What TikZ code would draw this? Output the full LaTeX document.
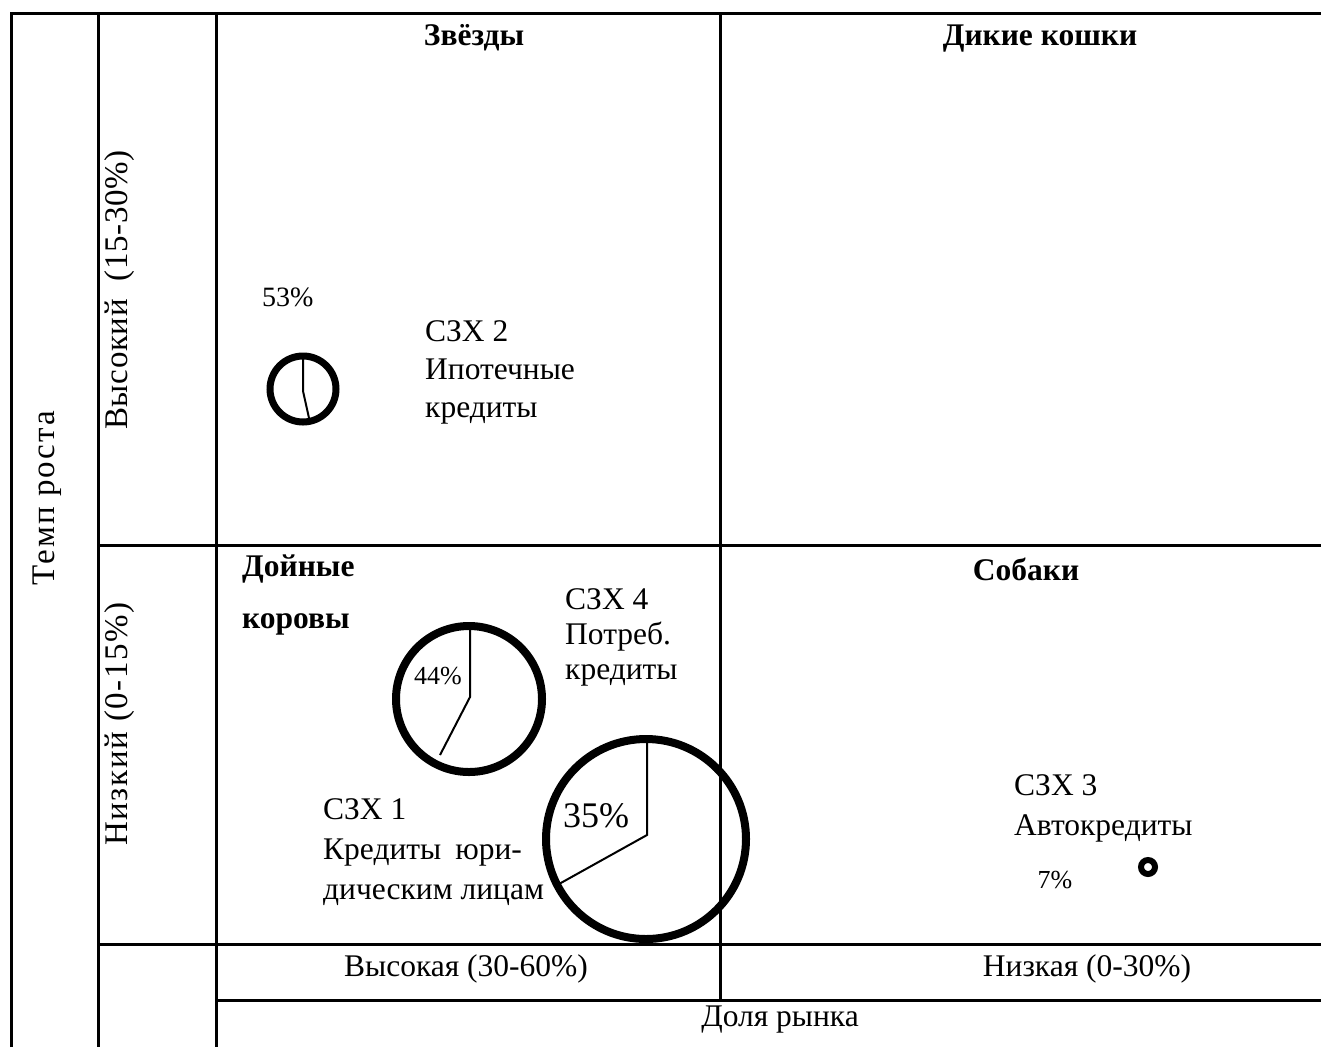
\documentclass[tikz,border=0pt]{standalone}
\usepackage{fontspec}
\setmainfont{Liberation Serif}
\newcommand\setfs[2]{\fontsize{#1}{#2}\selectfont}
\begin{document}
\begin{tikzpicture}[x=1pt,y=-1pt,
  grid/.style={line width=3pt},
  bubble/.style={draw,line width=#1},
  share/.style={line width=2pt},
  txt/.style={inner sep=0pt,font=\setfs{31.5}{38}},
  vtxt/.style={inner sep=0pt,rotate=90,font=\setfs{33}{38}\addfontfeature{LetterSpace=#1}},
  head/.style={inner sep=0pt,font=\setfs{31.5}{52}\bfseries},
  block/.style={inner sep=0pt,align=left,anchor=north west}]
\useasboundingbox (0,0) rectangle (1321,1047);

% table grid
\draw[grid] (11,1047) -- (11,13) -- (1321,13);
\draw[grid] (98,13) -- (98,1047);
\draw[grid] (216,13) -- (216,1047);
\draw[grid] (720,13) -- (720,1000);
\draw[grid] (98,545) -- (1321,545);
\draw[grid] (98,944) -- (1321,944);
\draw[grid] (216,1000) -- (1321,1000);

% axis labels
\node[vtxt=6] (yaxis) at (47,498) {Темп роста};
\node[vtxt=2] (yhigh) at (120,290) {Высокий\ \ (15-30\%)};
\node[vtxt=5] (ylow) at (120,724) {Низкий (0-15\%)};
\node[txt] (xhigh) at (466,969) {Высокая (30-60\%)};
\node[txt] (xlow) at (1087,969) {Низкая (0-30\%)};
\node[txt] (xaxis) at (780,1020) {Доля рынка};

% quadrant titles
\node[head,anchor=base] (stars) at (474,45) {Звёзды};
\node[head,anchor=base] (cats) at (1040,45) {Дикие кошки};
\node[head,anchor=base] (dogs) at (1026,580) {Собаки};
\node[head,block] (cows) at (242,555) {Дойные\\коровы};

% business units
\coordinate (c53) at (303,389);
\coordinate (c44) at (469,699);
\coordinate (c35) at (646,839);
\coordinate (c7) at (1148,867);

\draw[bubble=7pt] (c53) circle[radius=33];
\draw[share] (303,357) -- (303,391) -- (309,418);
\draw[bubble=8pt] (c44) circle[radius=73];
\draw[share] (470,628) -- (470,697) -- (440,755);
\draw[bubble=8pt] (c35) circle[radius=100];
\draw[share] (647,741) -- (647,835) -- (559,884);
\draw[bubble=6pt] (c7) circle[radius=7];

\node[inner sep=0pt,font=\setfs{28}{32},anchor=west] (p53) at (262,297) {53\%};
\node[inner sep=0pt,font=\setfs{26}{30}] (p44) at (438,676) {44\%};
\node[inner sep=0pt,font=\setfs{36}{40}] (p35) at (596,816) {35\%};
\node[inner sep=0pt,font=\setfs{26}{30}] (p7) at (1055,880) {7\%};

\node[txt,block,font=\setfs{31.5}{38}] (u2) at (425,320) {СЗХ 2\\Ипотечные\\кредиты};
\node[txt,block,font=\setfs{31.5}{35}] (u4) at (565,588) {СЗХ 4\\Потреб.\\кредиты};
\node[txt,block,font=\setfs{31.5}{40}] (u1) at (323,798) {СЗХ 1\\Кредиты\hspace{14pt}юри-\\дическим лицам};
\node[txt,block,font=\setfs{31.5}{40}] (u3) at (1014,774) {СЗХ 3\\Автокредиты};
\end{tikzpicture}
\end{document}
